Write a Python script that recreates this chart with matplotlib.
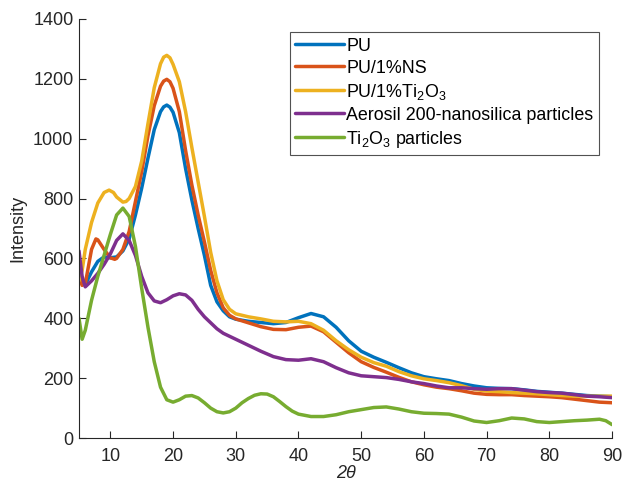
import matplotlib
matplotlib.use("Agg")
import matplotlib.pyplot as plt

plt.rcParams['font.family'] = ['Liberation Sans', 'DejaVu Sans']
plt.rcParams['mathtext.fontset'] = 'custom'
plt.rcParams['mathtext.rm'] = 'Liberation Sans'
plt.rcParams['mathtext.it'] = 'Liberation Sans:italic'
plt.rcParams['mathtext.default'] = 'regular'

# ---- data ----
pu_x = [5, 5.5, 6, 7, 8, 9, 10, 11, 12, 13, 14, 15, 16, 17, 18, 18.5, 19, 19.5, 20, 21, 22, 23, 24, 25, 26, 27,
        28, 29, 30, 32, 34, 36, 38, 40, 42, 44, 46, 48, 50, 52, 54, 56, 58, 60, 62, 64, 66, 68, 70, 72, 74, 76,
        78, 80, 82, 84, 86, 88, 90]
pu_y = [560, 525, 512, 555, 590, 605, 602, 605, 625, 665, 745, 835, 935, 1030, 1090, 1106, 1112, 1105, 1088, 1020,
        900, 795, 700, 610, 510, 455, 425, 405, 397, 390, 386, 382, 386, 402, 416, 405, 370, 325, 290, 270, 253,
        235, 218, 205, 198, 192, 182, 174, 168, 166, 165, 161, 156, 153, 150, 146, 142, 140, 138]

ns_x = [5, 5.5, 6, 7, 7.7, 8, 9, 10, 10.7, 11, 12, 13, 14, 15, 16, 17, 18, 18.5, 19, 19.5, 20, 21, 22, 23, 24, 25,
        26, 27, 28, 29, 30, 32, 34, 36, 38, 40, 42, 44, 46, 48, 50, 52, 54, 56, 58, 60, 62, 64, 66, 68, 70, 72,
        74, 76, 78, 80, 82, 84, 86, 88, 90]
ns_y = [540, 510, 515, 630, 665, 662, 630, 602, 597, 600, 630, 690, 790, 890, 1010, 1110, 1175, 1192, 1198, 1190,
        1168, 1090, 960, 845, 745, 655, 560, 485, 435, 410, 398, 385, 372, 363, 362, 370, 374, 355, 320, 285, 255,
        236, 220, 203, 188, 178, 170, 165, 158, 150, 146, 145, 145, 142, 140, 138, 135, 130, 125, 120, 118]

ti_x = [5, 5.5, 6, 7, 8, 9, 9.8, 10.5, 11, 12, 12.5, 13, 14, 15, 16, 17, 18, 18.5, 19, 19.5, 20, 21, 22, 23, 24,
        25, 26, 27, 28, 29, 30, 32, 34, 36, 38, 40, 42, 44, 46, 48, 50, 52, 54, 56, 58, 60, 62, 64, 66, 68, 70,
        72, 74, 76, 78, 80, 82, 84, 86, 88, 90]
ti_y = [525, 560, 630, 720, 785, 820, 828, 820, 805, 788, 790, 800, 840, 925, 1050, 1170, 1250, 1272, 1278, 1270,
        1248, 1190, 1090, 970, 855, 740, 620, 525, 462, 430, 415, 405, 398, 390, 388, 390, 382, 360, 325, 295,
        270, 252, 240, 222, 208, 198, 192, 185, 175, 163, 157, 155, 152, 150, 148, 145, 142, 140, 140, 140, 140]

si_x = [5, 5.5, 6, 7, 8, 9, 10, 11, 12, 13, 14, 15, 16, 17, 18, 19, 20, 21, 22, 23, 24, 25, 26, 27, 28, 29, 30,
        32, 34, 36, 38, 40, 42, 44, 46, 48, 50, 52, 54, 56, 58, 60, 62, 64, 66, 68, 70, 72, 74, 76, 78, 80,
        82, 84, 86, 88, 90]
si_y = [625, 540, 505, 525, 550, 580, 615, 660, 682, 660, 610, 540, 485, 458, 452, 462, 475, 482, 478, 460, 430,
        405, 385, 365, 350, 340, 330, 310, 290, 272, 262, 260, 265, 255, 235, 218, 208, 205, 202, 196, 188, 182,
        174, 168, 168, 165, 163, 165, 165, 160, 155, 152, 150, 145, 140, 138, 135]

tp_x = [5, 5.5, 6, 7, 8, 9, 10, 11, 12, 13, 14, 15, 16, 17, 18, 19, 20, 21, 22, 23, 24, 25, 26, 27, 28, 29, 30,
        31, 32, 33, 34, 35, 36, 37, 38, 39, 40, 42, 44, 46, 48, 50, 52, 54, 56, 58, 60, 62, 64, 66, 68, 70, 72,
        74, 76, 78, 80, 82, 84, 86, 88, 89, 90]
tp_y = [400, 330, 360, 460, 540, 610, 680, 745, 768, 740, 640, 500, 370, 255, 170, 128, 120, 128, 140, 142, 134,
        118, 100, 88, 84, 88, 100, 118, 132, 143, 148, 147, 138, 122, 105, 90, 80, 72, 72, 78, 88, 95, 102, 104,
        97, 88, 83, 82, 80, 70, 57, 52, 58, 67, 64, 55, 52, 55, 58, 60, 63, 58, 45]

labels = ['PU', 'PU/1%NS', 'PU/1%Ti$_2$O$_3$', 'Aerosil 200-nanosilica particles', 'Ti$_2$O$_3$ particles']
colors = ['#0072BD', '#D95319', '#EDB120', '#7E2F8E', '#77AC30']
x_ticks = [10, 20, 30, 40, 50, 60, 70, 80, 90]
y_ticks = [0, 200, 400, 600, 800, 1000, 1200, 1400]

fig = plt.figure(figsize=(6.22, 4.83), dpi=100)
ax = fig.add_axes([0.127, 0.093, 0.857, 0.868])

series = [(pu_x, pu_y), (ns_x, ns_y), (ti_x, ti_y), (si_x, si_y), (tp_x, tp_y)]
for (xs, ys), lab, c in zip(series, labels, colors):
    ax.plot(xs, ys, color=c, lw=2.5, label=lab, solid_joinstyle='round', solid_capstyle='round')

ax.set_xlim(5, 90)
ax.set_ylim(0, 1400)
ax.set_xticks(x_ticks)
ax.set_yticks(y_ticks)
for s in ['top', 'right']:
    ax.spines[s].set_visible(False)
for s in ['left', 'bottom']:
    ax.spines[s].set_color('#262626')
    ax.spines[s].set_linewidth(0.8)
ax.tick_params(direction='in', length=5, width=0.8, colors='#262626', labelsize=13)
ax.tick_params(axis='x', pad=7)
ax.tick_params(axis='y', pad=4)
ax.set_xlabel('2θ', fontsize=13, fontstyle='italic', color='#262626', labelpad=0)
ax.set_ylabel('Intensity', fontsize=13, color='#262626', labelpad=5)

leg = ax.legend(loc='upper right', bbox_to_anchor=(0.9755, 0.968), fontsize=12.9, frameon=True,
                fancybox=False, edgecolor='#262626', handlelength=2.7, handletextpad=0.15,
                labelspacing=0.28, borderpad=0.3, borderaxespad=0)
leg.get_frame().set_linewidth(0.8)

fig.savefig('out.png', dpi=100)
